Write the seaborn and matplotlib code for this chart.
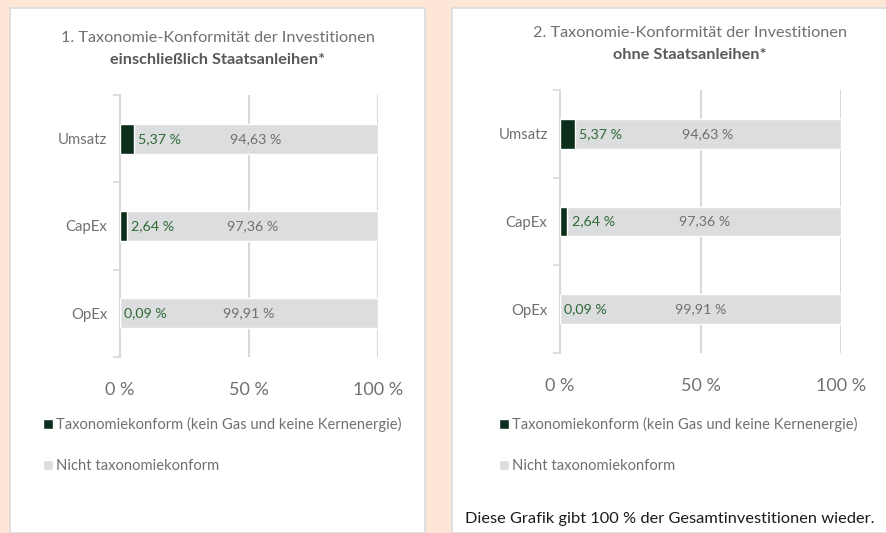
import matplotlib
matplotlib.use('Agg')
import matplotlib.pyplot as plt
import seaborn as sns
import pandas as pd
from matplotlib.patches import Rectangle, Patch

# data
kategorien = ['Umsatz', 'CapEx', 'OpEx']
konform_mit = [5.37, 2.64, 0.09]
nicht_mit = [94.63, 97.36, 99.91]
konform_ohne = [5.37, 2.64, 0.09]
nicht_ohne = [94.63, 97.36, 99.91]
x_ticks = [0, 50, 100]
x_labels = ['0 %', '50 %', '100 %']
titel = [('1. Taxonomie-Konformität der Investitionen', 'einschließlich Staatsanleihen*'),
         ('2. Taxonomie-Konformität der Investitionen', 'ohne Staatsanleihen*')]
legende = ['Taxonomiekonform (kein Gas und keine Kernenergie)', 'Nicht taxonomiekonform']
fussnote = 'Diese Grafik gibt 100 % der Gesamtinvestitionen wieder.'

sns.set_theme(style='white')
plt.rcParams['font.family'] = ['Lato', 'DejaVu Sans']

GRUEN = '#0b2f1b'
GRAU = '#dcdddf'
TXT = '#707070'
LBL_GRUEN = '#2f6a35'
LINIE = '#d9d9d9'

W, H = 887, 533
fig = plt.figure(figsize=(W / 100, H / 100), dpi=100)
fig.patch.set_facecolor('#fde6d6')

# white panels
for x0, x1 in [(10, 425), (452, 900)]:
    fig.patches.append(Rectangle((x0 / W, 0), (x1 - x0) / W, 1 - 8 / H, transform=fig.transFigure,
                                 facecolor='white', edgecolor='#dcdcdc', linewidth=1.2, zorder=-5))


def px(x, y):
    return x / W, 1 - y / H


def panel(rect, konform, nicht, t, tx, legx, legy):
    l, top, r, bot = rect
    ax = fig.add_axes([l / W, 1 - bot / H, (r - l) / W, (bot - top) / H])
    df = pd.DataFrame({'kat': kategorien, 'konform': konform, 'nicht': nicht})
    df['gesamt'] = df['konform'] + df['nicht']
    sns.barplot(data=df, y='kat', x='gesamt', color=GRAU, width=0.34, saturation=1, ax=ax, zorder=2)
    sns.barplot(data=df, y='kat', x='konform', color=GRUEN, width=0.34, saturation=1, ax=ax, zorder=3)
    ax.set_xlim(0, 100)
    ax.set_ylim(2.5, -0.5)
    ax.set_facecolor('none')
    ax.set_xlabel('')
    ax.set_ylabel('')
    for s in ['top', 'right', 'bottom']:
        ax.spines[s].set_visible(False)
    ax.spines['left'].set_color(LINIE)
    ax.spines['left'].set_linewidth(1.5)
    for xv in x_ticks[1:]:
        ax.axvline(xv, color=LINIE, lw=1.5, zorder=1)
    ax.set_xticks(x_ticks)
    ax.set_xticklabels(x_labels, color=TXT, fontsize=13)
    ax.tick_params(axis='x', length=0, pad=18)
    ax.set_yticks(range(len(kategorien)))
    ax.set_yticklabels(kategorien, color=TXT, fontsize=10.7)
    ax.set_yticks([-0.5, 0.5, 1.5, 2.5], minor=True)
    ax.tick_params(axis='y', which='major', length=0, pad=9)
    ax.tick_params(axis='y', which='minor', length=5, width=1.2, color=LINIE, left=True)
    for i, (k, n) in enumerate(zip(konform, nicht)):
        ax.annotate(f'{k:.2f} %'.replace('.', ','), (k, i), xytext=(3, 0), textcoords='offset points',
                    ha='left', va='center', color=LBL_GRUEN, fontsize=10.3, zorder=5)
        ax.text(k + n / 2, i, f'{n:.2f} %'.replace('.', ','), ha='center', va='center',
                color=TXT, fontsize=10.3, zorder=5)
    fig.text(*px(tx, top - 57), t[0], ha='center', va='center', color=TXT, fontsize=11.7)
    fig.text(*px(tx, top - 35), t[1], ha='center', va='center', color='#595959', fontsize=11.7,
             fontweight='bold')
    handles = [Patch(facecolor=GRUEN), Patch(facecolor=GRAU)]
    fig.legend(handles, legende, loc='upper left', bbox_to_anchor=px(legx, legy), frameon=False,
               handlelength=0.65, handleheight=0.65, handletextpad=0.25, labelspacing=1.85,
               fontsize=10.6, labelcolor=TXT, borderpad=0, borderaxespad=0)
    return ax


panel((120, 95, 378, 357), konform_mit, nicht_mit, titel[0], 218, 43, 417)
panel((560, 90, 841, 353), konform_ohne, nicht_ohne, titel[1], 690, 499, 417)

fig.text(*px(465, 519), fussnote, ha='left', va='center', color='#1a1a1a', fontsize=11.8)

fig.savefig('out.png', dpi=100, facecolor=fig.get_facecolor())
